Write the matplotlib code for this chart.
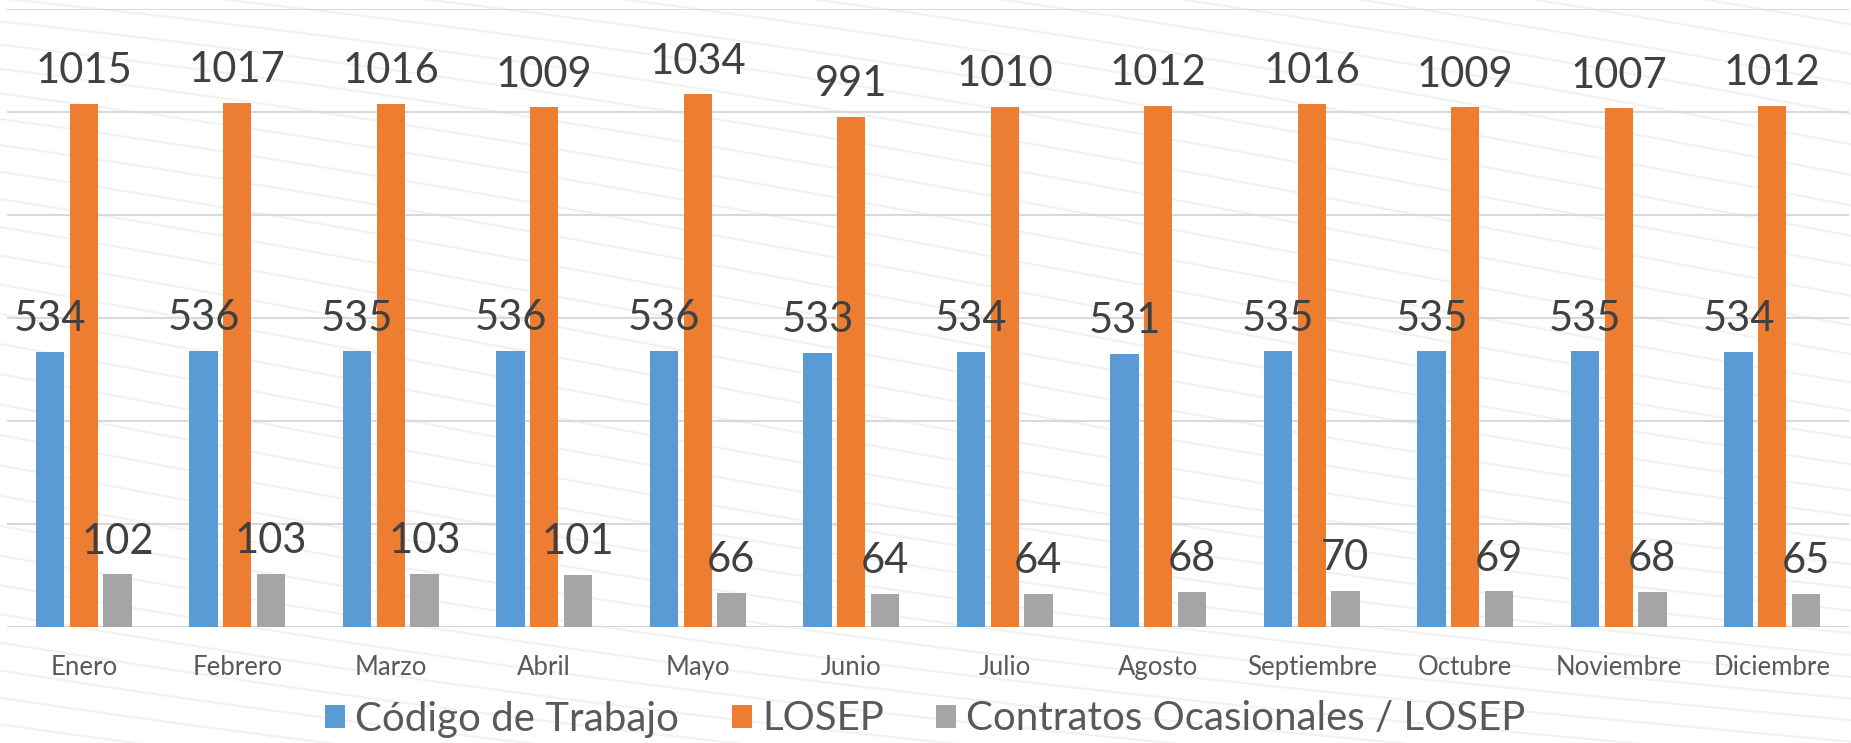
import numpy as np
import matplotlib.pyplot as plt
from matplotlib.lines import Line2D
from matplotlib.patches import Patch

plt.rcParams['font.family'] = ['Lato', 'DejaVu Sans']

meses = ["Enero", "Febrero", "Marzo", "Abril", "Mayo", "Junio", "Julio",
         "Agosto", "Septiembre", "Octubre", "Noviembre", "Diciembre"]
codigo = [534, 536, 535, 536, 536, 533, 534, 531, 535, 535, 535, 534]
losep = [1015, 1017, 1016, 1009, 1034, 991, 1010, 1012, 1016, 1009, 1007, 1012]
ocasionales = [102, 103, 103, 101, 66, 64, 64, 68, 70, 69, 68, 65]

series = ["Código de Trabajo", "LOSEP", "Contratos Ocasionales / LOSEP"]
colores = ["#5B9BD5", "#ED7D31", "#A5A5A5"]

fig = plt.figure(figsize=(18.51, 7.43), dpi=100)
fig.patch.set_facecolor("white")

# faint wavy stripes in the background
xs = np.linspace(0, 1, 200)
for k in range(-30, 60):
    y0 = 1.15 - k * 0.035
    ys = y0 - 0.35 * xs + 0.04 * np.sin(xs * 3.0 + k * 0.15)
    fig.add_artist(Line2D(xs, ys, color="#E8E8E8", lw=1.5, alpha=0.6,
                          transform=fig.transFigure, zorder=0))

ax = fig.add_axes([7 / 1851, 116 / 743, 1842 / 1851, 618 / 743])
ax.set_facecolor("none")
x = np.arange(len(meses))
slot = 0.219
ancho = 0.185
for i, (vals, col) in enumerate(zip([codigo, losep, ocasionales], colores)):
    pos = x + (i - 1) * slot
    ax.bar(pos, vals, width=ancho, color=col, zorder=3)
    for px, v in zip(pos, vals):
        ax.annotate(str(v), (px, v), xytext=(0, 15), textcoords="offset points",
                    ha="center", va="baseline", fontsize=30, color="#404040",
                    zorder=4)

ax.set_xlim(-0.5, 11.5)
ax.set_ylim(0, 1200)
ax.set_yticks(np.arange(0, 1201, 200))
ax.yaxis.grid(True, color="#D9D9D9", lw=1.5, zorder=1)
ax.tick_params(axis="y", left=False, labelleft=False)
ax.tick_params(axis="x", length=0, pad=20, labelsize=18.5, labelcolor="#595959")
ax.set_xticks(x)
ax.set_xticklabels(meses)
for s in ax.spines.values():
    s.set_visible(False)

handles = [Patch(facecolor=c, edgecolor="none") for c in colores]
fig.legend(handles, series, loc="center", bbox_to_anchor=(0.5, 24 / 743),
           ncol=3, frameon=False, fontsize=29, labelcolor="#595959",
           handlelength=0.5, handleheight=0.5, handletextpad=0.25,
           columnspacing=1.3)

fig.savefig("out.png", dpi=100)
